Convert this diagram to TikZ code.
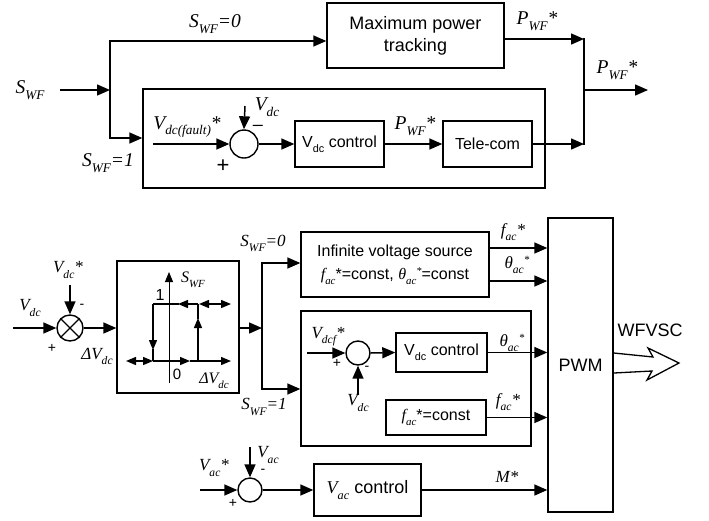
\documentclass[tikz,border=0pt]{standalone}
\usepackage{fontspec}
\setmainfont{Liberation Sans}
\newfontfamily\tms{Liberation Serif}
\usetikzlibrary{arrows.meta}
\newcommand\fs[2]{\fontsize{#1}{#2}\selectfont}
\newcommand\sbs[1]{\raisebox{-0.3em}{\scalebox{0.68}{#1}}}
\newcommand\sps[1]{\raisebox{0.3em}{\scalebox{0.65}{#1}}}
\newcommand\iv[2]{{\tms\itshape #1\sbs{#2}}}
\tikzset{
  ln/.style={line width=1.5pt, line cap=rect},
  arr/.style={line width=1.5pt, -{Triangle[length=13pt,width=11pt]}},
  box/.style={draw, line width=1.4pt, rectangle, inner sep=0pt, align=center, font=\fs{16}{23}},
  sumc/.style={draw, line width=1.4pt, circle, inner sep=0pt},
  hl/.style={line width=1.4pt},
  htip/.style={-{Triangle[length=10pt,width=8pt]}},
  htips/.style={{Triangle[length=10pt,width=8pt]}-{Triangle[length=10pt,width=8pt]}},
  lbl/.style={inner sep=0pt, font=\tms\itshape\fs{19.5}{22}},
  lbm/.style={inner sep=0pt, font=\tms\itshape\fs{17}{20}},
  lbs/.style={inner sep=0pt, font=\tms\itshape\fs{16}{18}},
  sgn/.style={inner sep=0pt, font=\fs{14}{16}},
}
\begin{document}
\begin{tikzpicture}[x=1pt,y=-1pt]
\useasboundingbox (0,0) rectangle (709,520);
\fill[white] (0,0) rectangle (709,520);

% ---------------- top part ----------------
\node[box, minimum width=177pt, minimum height=65pt, font=\fs{18}{22}] (mpt) at (415.5,35.5) {Maximum power\\tracking};
\node[box, minimum width=402pt, minimum height=99pt] (bigA) at (344,138.5) {};
\node[sumc, minimum size=28pt] (sumA) at (244,144) {};
\node[box, minimum width=89pt, minimum height=46pt] (vdcA) at (339.5,144) {V\sbs{dc} control};
\node[box, minimum width=89pt, minimum height=46pt] (tele) at (487.5,144) {Tele-com};

\coordinate (swin) at (60,90);
\coordinate (j1) at (110,90);
\coordinate (j1t) at (110,41);
\coordinate (j1b) at (110,138);
\coordinate (vin) at (153,144);
\coordinate (vtop) at (245,106);
\coordinate (j2t) at (584,39);
\coordinate (j2b) at (584,144);
\coordinate (pout) at (648,90);

\draw[arr] (swin) -- (j1);
\draw[arr] (j1) -- (j1t) -- (j1t -| mpt.west);
\draw[arr] (j1) -- (j1b) -- (j1b -| bigA.west);
\draw[arr] (vin) -- (sumA.west);
\draw[arr] (vtop) -- (sumA.north);
\draw[arr] (sumA.east) -- (vdcA.west);
\draw[arr] (vdcA.east) -- (tele.west);
\draw[arr] (j2t -| mpt.east) -- (j2t);
\draw[arr] (tele.east) -- (j2b);
\draw[ln] (j2t) -- (j2b);
\draw[arr] (j2t |- pout) -- (pout);

\node[lbl] (t1) at (30,90) {\iv{S}{WF}};
\node[lbl] (t2) at (215,24) {S\sbs{WF}=0};
\node[lbl] (t3) at (108,163) {S\sbs{WF}=1};
\node[lbl] (t4) at (187,127) {V\sbs{dc(fault)}*};
\node[inner sep=0pt, font=\fs{22}{24}] (t5) at (223,166) {+};
\node[lbl] (t6) at (267,107) {V\sbs{dc}};
\node[inner sep=0pt, font=\fs{18}{18}] (t7) at (258,128) {–};
\node[lbl] (t8) at (415,126) {P\sbs{WF}*};
\node[lbl] (t9) at (537,21) {P\sbs{WF}*};
\node[lbl] (t10) at (617,70) {P\sbs{WF}*};

% ---------------- bottom part ----------------
\node[sumc, minimum size=26pt] (sumB) at (70,328) {};
\draw[hl] (sumB.45) -- (sumB.225) (sumB.135) -- (sumB.315);
\node[box, minimum width=122pt, minimum height=132pt] (hyst) at (178,327) {};
\node[box, minimum width=188pt, minimum height=65pt] (infb) at (395,264.5)
  {Infinite voltage source\\{\tms\itshape f\sbs{ac}}*=const, {\tms\itshape θ\sbs{ac}\sps{*}}=const};
\node[box, minimum width=230pt, minimum height=135pt] (bigB) at (416,378.5) {};
\node[box, minimum width=65pt, minimum height=294pt, font=\fs{18}{20}] (pwm) at (580.5,365) {PWM};
\node[sumc, minimum size=24pt] (sumC) at (358,353) {};
\node[box, minimum width=91pt, minimum height=39pt] (vdcB) at (441.5,352.5) {V\sbs{dc} control};
\node[box, minimum width=100pt, minimum height=35pt] (fconst) at (436,417.5) {{\tms\itshape f\sbs{ac}}*=const};
\node[sumc, minimum size=24pt] (sumD) at (250,490) {};
\node[box, minimum width=107pt, minimum height=52pt, font=\fs{18}{20}] (vac) at (367.5,490) {{\tms\itshape V\sbs{ac}} control};

\coordinate (vdcin) at (13,328);
\coordinate (vdcst) at (70,285);
\coordinate (j3) at (262,328);
\coordinate (j3t) at (262,263);
\coordinate (j3b) at (262,389);
\coordinate (yf) at (0,248);
\coordinate (yt) at (0,281);
\coordinate (vdcfin) at (307,353);
\coordinate (vdcbot) at (358,395);
\coordinate (vacin) at (200,490);
\coordinate (vactop) at (250,447);

\draw[arr] (vdcin) -- (sumB.west);
\draw[arr] (vdcst) -- (sumB.north);
\draw[arr] (sumB.east) -- (sumB.east -| hyst.west);
\draw[arr] (hyst.east |- j3) -- (j3);
\draw[arr] (j3) -- (j3t) -- (j3t -| infb.west);
\draw[arr] (j3) -- (j3b) -- (j3b -| bigB.west);
\draw[arr] (infb.east |- yf) -- (yf -| pwm.west);
\draw[arr] (infb.east |- yt) -- (yt -| pwm.west);
\draw[arr] (vdcfin) -- (sumC.west);
\draw[arr] (vdcbot) -- (sumC.south);
\draw[arr] (sumC.east) -- (vdcB.west);
\draw[arr] (vdcB.east) -- (vdcB.east -| pwm.west);
\draw[arr] (fconst.east) -- (fconst.east -| pwm.west);
\draw[arr] (vacin) -- (sumD.west);
\draw[arr] (vactop) -- (sumD.north);
\draw[arr] (sumD.east) -- (vac.west);
\draw[arr] (vac.east) -- (vac.east -| pwm.west);

% WFVSC hollow arrow
\draw[line width=1.3pt, line join=miter] (pwm.east |- 0,353) -- (653,357) -- (648,348) -- (679,363) -- (647,380) -- (652,371) -- (pwm.east |- 0,373);

% hysteresis characteristic
\draw[line width=0.9pt, htip] (169,383) -- (169,272);
\draw[hl, htips] (126,361) -- (153,361);
\draw[hl, htip] (153,361) -- (190,361);
\draw[hl, htip] (190,361) -- (231,361);
\draw[hl, htip] (153,304) -- (153,350);
\draw[hl] (153,349) -- (153,361);
\draw[hl, htip] (198,361) -- (198,318);
\draw[hl] (198,319) -- (198,304);
\draw[hl, htip] (198,304) -- (178,304);
\draw[hl] (179,304) -- (153,304);
\draw[hl, htips] (199,304) -- (231,304);

\node[lbs] (h1) at (193,280) {S\sbs{WF}};
\node[inner sep=0pt, font=\fs{16}{18}] (h2) at (160,295) {1};
\node[inner sep=0pt, font=\fs{15}{17}] (h3) at (177,374) {0};
\node[lbs] (h4) at (214,381) {ΔV\sbs{dc}};

\node[lbm] (b1) at (30,308) {V\sbs{dc}};
\node[lbm] (b2) at (68,270) {V\sbs{dc}*};
\node[sgn] (b3) at (82,306) {-};
\node[sgn] (b4) at (52,348) {+};
\node[lbm] (b5) at (97,356) {ΔV\sbs{dc}};
\node[lbm] (b6) at (263,243) {S\sbs{WF}=0};
\node[lbm] (b7) at (264,407) {S\sbs{WF}=1};
\node[lbm] (b8) at (513,232) {f\sbs{ac}*};
\node[lbm] (b9) at (517,265) {θ\sbs{ac}\sps{*}};
\node[lbm] (b10) at (328,337) {V\sbs{dcf}*};
\node[sgn] (b11) at (337,363) {+};
\node[sgn] (b12) at (367,368) {-};
\node[lbm] (b13) at (358,403) {V\sbs{dc}};
\node[lbm] (b14) at (512,343) {θ\sbs{ac}\sps{*}};
\node[lbm] (b15) at (508,402) {f\sbs{ac}*};
\node[lbm] (b16) at (507,477) {M*};
\node[lbm] (b17) at (214,468) {V\sbs{ac}*};
\node[sgn] (b18) at (233,503) {+};
\node[lbm] (b19) at (268,455) {V\sbs{ac}};
\node[sgn] (b20) at (263,471) {-};
\node[inner sep=0pt, font=\fs{18}{20}] (b21) at (650,330) {WFVSC};
\end{tikzpicture}
\end{document}
